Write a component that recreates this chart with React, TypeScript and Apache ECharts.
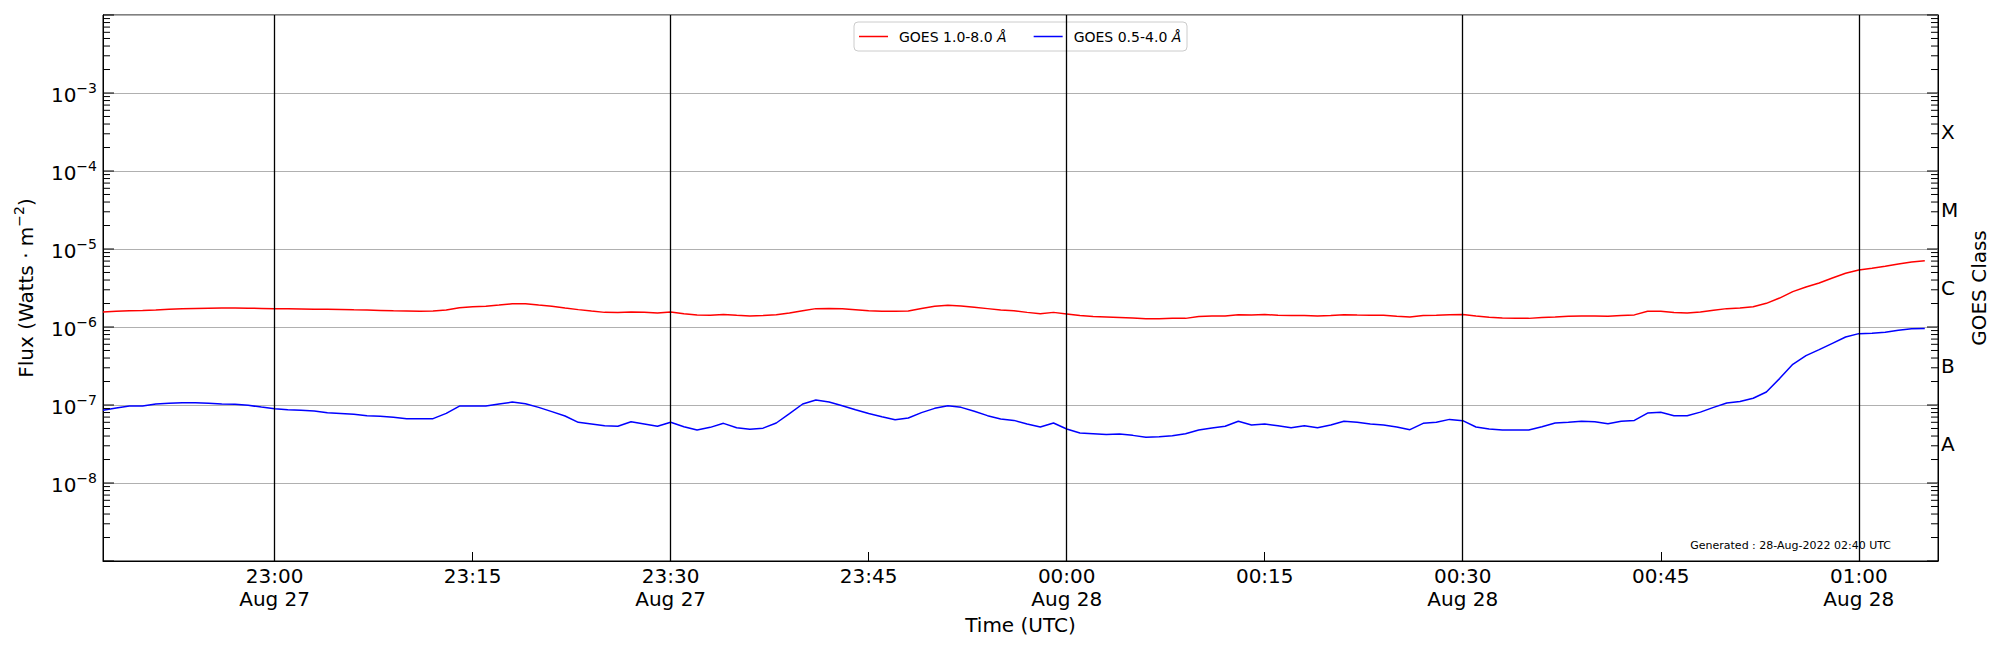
import React, { useEffect, useRef } from "react";
import * as echarts from "echarts";

const FONT = '"DejaVu Sans", "Liberation Sans", sans-serif';

// 1-minute cadence starting 2022-08-27 22:47 UTC
const START_UTC = Date.UTC(2022, 7, 27, 22, 47);
const MINUTE_MS = 60000;
const X_MIN = Date.UTC(2022, 7, 27, 22, 47);
const X_MAX = Date.UTC(2022, 7, 28, 1, 6);

// GOES 1.0-8.0 Å flux (W/m^2)
const LONG_FLUX = [
  1.56e-6, 1.59e-6, 1.62e-6, 1.63e-6, 1.65e-6, 1.69e-6, 1.71e-6, 1.73e-6, 1.74e-6, 1.75e-6,
  1.75e-6, 1.74e-6, 1.73e-6, 1.72e-6, 1.71e-6, 1.70e-6, 1.69e-6, 1.69e-6, 1.68e-6, 1.66e-6,
  1.65e-6, 1.63e-6, 1.61e-6, 1.60e-6, 1.59e-6, 1.60e-6, 1.65e-6, 1.77e-6, 1.82e-6, 1.84e-6,
  1.91e-6, 1.99e-6, 1.99e-6, 1.91e-6, 1.84e-6, 1.75e-6, 1.67e-6, 1.60e-6, 1.54e-6, 1.53e-6,
  1.56e-6, 1.54e-6, 1.51e-6, 1.56e-6, 1.48e-6, 1.43e-6, 1.41e-6, 1.45e-6, 1.41e-6, 1.38e-6,
  1.40e-6, 1.44e-6, 1.51e-6, 1.62e-6, 1.72e-6, 1.73e-6, 1.72e-6, 1.67e-6, 1.62e-6, 1.59e-6,
  1.59e-6, 1.60e-6, 1.73e-6, 1.84e-6, 1.90e-6, 1.86e-6, 1.79e-6, 1.72e-6, 1.65e-6, 1.62e-6,
  1.54e-6, 1.48e-6, 1.54e-6, 1.47e-6, 1.40e-6, 1.36e-6, 1.34e-6, 1.32e-6, 1.30e-6, 1.28e-6,
  1.28e-6, 1.29e-6, 1.29e-6, 1.36e-6, 1.38e-6, 1.38e-6, 1.44e-6, 1.42e-6, 1.45e-6, 1.41e-6,
  1.40e-6, 1.40e-6, 1.38e-6, 1.40e-6, 1.44e-6, 1.42e-6, 1.41e-6, 1.41e-6, 1.37e-6, 1.34e-6,
  1.40e-6, 1.41e-6, 1.44e-6, 1.45e-6, 1.38e-6, 1.33e-6, 1.30e-6, 1.29e-6, 1.29e-6, 1.32e-6,
  1.34e-6, 1.37e-6, 1.38e-6, 1.38e-6, 1.37e-6, 1.40e-6, 1.43e-6, 1.59e-6, 1.59e-6, 1.53e-6,
  1.51e-6, 1.56e-6, 1.64e-6, 1.72e-6, 1.75e-6, 1.82e-6, 2.01e-6, 2.35e-6, 2.84e-6, 3.26e-6,
  3.67e-6, 4.25e-6, 4.88e-6, 5.38e-6, 5.65e-6, 6.00e-6, 6.42e-6, 6.81e-6, 7.08e-6,
];

// GOES 0.5-4.0 Å flux (W/m^2)
const SHORT_FLUX = [
  8.55e-8, 9.16e-8, 9.7e-8, 9.7e-8, 10.3e-8, 10.5e-8, 10.7e-8, 10.7e-8, 10.5e-8, 10.3e-8,
  10.2e-8, 9.9e-8, 9.4e-8, 8.97e-8, 8.7e-8, 8.55e-8, 8.4e-8, 7.97e-8, 7.8e-8, 7.6e-8,
  7.3e-8, 7.16e-8, 6.95e-8, 6.68e-8, 6.68e-8, 6.68e-8, 7.8e-8, 9.7e-8, 9.7e-8, 9.7e-8,
  10.3e-8, 10.9e-8, 10.4e-8, 9.33e-8, 8.22e-8, 7.23e-8, 6.0e-8, 5.71e-8, 5.43e-8, 5.33e-8,
  6.1e-8, 5.71e-8, 5.33e-8, 6.0e-8, 5.27e-8, 4.78e-8, 5.17e-8, 5.82e-8, 5.1e-8, 4.88e-8,
  5.05e-8, 5.88e-8, 7.76e-8, 10.3e-8, 11.6e-8, 10.9e-8, 9.8e-8, 8.7e-8, 7.76e-8, 7.08e-8,
  6.48e-8, 6.8e-8, 7.98e-8, 9.06e-8, 9.8e-8, 9.33e-8, 8.3e-8, 7.3e-8, 6.6e-8, 6.35e-8,
  5.7e-8, 5.22e-8, 5.88e-8, 4.92e-8, 4.37e-8, 4.29e-8, 4.2e-8, 4.25e-8, 4.08e-8, 3.85e-8,
  3.93e-8, 4.04e-8, 4.29e-8, 4.77e-8, 5.07e-8, 5.33e-8, 6.18e-8, 5.54e-8, 5.7e-8, 5.43e-8,
  5.1e-8, 5.43e-8, 5.1e-8, 5.54e-8, 6.18e-8, 6.0e-8, 5.7e-8, 5.54e-8, 5.22e-8, 4.83e-8,
  5.82e-8, 6.0e-8, 6.54e-8, 6.3e-8, 5.22e-8, 4.92e-8, 4.77e-8, 4.77e-8, 4.77e-8, 5.27e-8,
  5.88e-8, 6.0e-8, 6.18e-8, 6.1e-8, 5.76e-8, 6.18e-8, 6.35e-8, 7.88e-8, 8.06e-8, 7.3e-8,
  7.3e-8, 8.1e-8, 9.33e-8, 10.6e-8, 11.1e-8, 12.2e-8, 14.7e-8, 21.8e-8, 33.2e-8, 42.9e-8,
  51.2e-8, 61.8e-8, 74.4e-8, 82.2e-8, 83.0e-8, 85.5e-8, 90.6e-8, 95.2e-8, 96.0e-8,
];

const TICK_TIMES = [
  Date.UTC(2022, 7, 27, 23, 0),
  Date.UTC(2022, 7, 27, 23, 15),
  Date.UTC(2022, 7, 27, 23, 30),
  Date.UTC(2022, 7, 27, 23, 45),
  Date.UTC(2022, 7, 28, 0, 0),
  Date.UTC(2022, 7, 28, 0, 15),
  Date.UTC(2022, 7, 28, 0, 30),
  Date.UTC(2022, 7, 28, 0, 45),
  Date.UTC(2022, 7, 28, 1, 0),
];
const TICK_LABELS = [
  "23:00\nAug 27", "23:15", "23:30\nAug 27", "23:45", "00:00\nAug 28",
  "00:15", "00:30\nAug 28", "00:45", "01:00\nAug 28",
];
const MAJOR_LINE_TIMES = [
  Date.UTC(2022, 7, 27, 23, 0),
  Date.UTC(2022, 7, 27, 23, 30),
  Date.UTC(2022, 7, 28, 0, 0),
  Date.UTC(2022, 7, 28, 0, 30),
  Date.UTC(2022, 7, 28, 1, 0),
];

const Y_LABEL_EXPONENTS = [-8, -7, -6, -5, -4, -3];
const DECADE_EXPONENTS = [-9, -8, -7, -6, -5, -4, -3, -2];
const MINOR_MULTIPLES = [2, 3, 4, 5, 6, 7, 8, 9];
const CLASS_LEVELS = [-7.5, -6.5, -5.5, -4.5, -3.5];
const CLASS_LABELS = ["A", "B", "C", "M", "X"];

const LONG_NAME = "GOES 1.0-8.0 Å";
const SHORT_NAME = "GOES 0.5-4.0 Å";

export default function App() {
  const ref = useRef<HTMLDivElement>(null);

  useEffect(() => {
    document.body.style.margin = "0";
    if (!ref.current) return;
    const chart = echarts.init(ref.current, undefined, { renderer: "svg" });

    const longData = LONG_FLUX.map((v, i) => [START_UTC + i * MINUTE_MS, v]);
    const shortData = SHORT_FLUX.map((v, i) => [START_UTC + i * MINUTE_MS, v]);

    const tickData: number[][] = [];
    DECADE_EXPONENTS.forEach((e) => {
      tickData.push([X_MIN, Math.pow(10, e), 1]);
      if (e < -2) MINOR_MULTIPLES.forEach((k) => tickData.push([X_MIN, k * Math.pow(10, e), 0]));
    });

    const option: any = {
      animation: false,
      textStyle: { fontFamily: FONT },
      grid: {
        left: 103, right: 62, top: 15, bottom: 89,
        show: true, borderColor: "#000", borderWidth: 1, backgroundColor: "transparent",
      },
      legend: {
        data: [LONG_NAME, SHORT_NAME],
        left: 854, top: 22, z: 6,
        icon: "rect",
        itemWidth: 29, itemHeight: 1.5, itemGap: 27,
        padding: [6, 6, 6, 5],
        selectedMode: false,
        textStyle: {
          fontSize: 14, fontFamily: FONT, color: "#000", lineHeight: 17,
          rich: {
            sp: { width: 6, fontSize: 14, lineHeight: 17 },
            it: { fontStyle: "italic", fontSize: 14, fontFamily: FONT, color: "#000", lineHeight: 17 },
          },
        },
        formatter: (name: string) => "{sp|}" + name.replace("Å", "{it|Å}"),
      },
      xAxis: {
        type: "value",
        min: X_MIN, max: X_MAX,
        axisLine: { show: true, lineStyle: { color: "#000", width: 1 } },
        axisTick: { show: true, inside: true, length: 9, customValues: TICK_TIMES, lineStyle: { color: "#000", width: 1 } },
        axisLabel: {
          customValues: TICK_TIMES,
          formatter: (v: number) => {
            const i = TICK_TIMES.findIndex((t) => Math.abs(t - v) < 1000);
            return i >= 0 ? TICK_LABELS[i] : "";
          },
          fontSize: 20, lineHeight: 23, color: "#000", fontFamily: FONT, margin: 3,
        },
        splitLine: { show: false },
        name: "Time (UTC)", nameLocation: "middle", nameGap: 52,
        nameTextStyle: { fontSize: 20, color: "#000", fontFamily: FONT },
      },
      yAxis: [
        {
          type: "log", logBase: 10, min: 1e-9, max: 1e-2, splitNumber: 7,
          axisLine: { show: true, lineStyle: { color: "#000", width: 1 } },
          axisTick: { show: false },
          minorTick: { show: false },
          axisLabel: {
            margin: 6,
            formatter: (v: number) => {
              const e = Math.round(Math.log10(v));
              return Y_LABEL_EXPONENTS.includes(e) ? `{b|10}{s|−${Math.abs(e)}}` : "";
            },
            rich: {
              b: { fontSize: 20, fontFamily: FONT, color: "#000", lineHeight: 24, verticalAlign: "bottom" },
              s: { fontSize: 14, fontFamily: FONT, color: "#000", lineHeight: 24, verticalAlign: "top" },
            },
          },
          splitLine: { show: true, lineStyle: { color: "#b0b0b0", width: 1 } },
          name: "{n|Flux (Watts · m}{s|−2}{n|)}",
          nameLocation: "middle", nameGap: 67, nameRotate: 90,
          nameTextStyle: {
            rich: {
              n: { fontSize: 20, fontFamily: FONT, color: "#000", lineHeight: 24, verticalAlign: "bottom" },
              s: { fontSize: 14, fontFamily: FONT, color: "#000", lineHeight: 24, verticalAlign: "top" },
            },
          },
        },
        {
          type: "value", position: "right", min: -9, max: -2, interval: 0.5,
          axisLine: { show: true, lineStyle: { color: "#000", width: 1 } },
          axisTick: { show: false },
          splitLine: { show: false },
          axisLabel: {
            margin: 3, fontSize: 20, color: "#000", fontFamily: FONT,
            formatter: (v: number) => {
              const i = CLASS_LEVELS.findIndex((c) => Math.abs(c - v) < 1e-6);
              return i >= 0 ? CLASS_LABELS[i] : "";
            },
          },
          name: "GOES Class", nameLocation: "middle", nameGap: 11, nameRotate: 90,
          nameTextStyle: { fontSize: 20, color: "#000", fontFamily: FONT },
        },
      ],
      series: [
        {
          name: LONG_NAME, type: "line", data: longData, yAxisIndex: 0,
          symbol: "none", showSymbol: false,
          lineStyle: { color: "#ff0000", width: 1.5 }, itemStyle: { color: "#ff0000" },
          emphasis: { disabled: true }, z: 3,
          markLine: {
            silent: true, symbol: ["none", "none"], label: { show: false },
            lineStyle: { color: "#000", width: 1.3, type: "solid" },
            emphasis: { disabled: true },
            data: MAJOR_LINE_TIMES.map((t) => ({ xAxis: t })),
          },
        },
        {
          name: SHORT_NAME, type: "line", data: shortData, yAxisIndex: 0,
          symbol: "none", showSymbol: false,
          lineStyle: { color: "#0000ff", width: 1.5 }, itemStyle: { color: "#0000ff" },
          emphasis: { disabled: true }, z: 3,
        },
        {
          type: "custom", name: "ticks", yAxisIndex: 0, silent: true, z: 5,
          data: tickData,
          renderItem: (_p: any, api: any) => {
            const v = api.value(1);
            const major = api.value(2) === 1;
            const pl = api.coord([X_MIN, v]);
            const pr = api.coord([X_MAX, v]);
            const len = major ? 11 : 7;
            return {
              type: "group",
              children: [
                { type: "line", shape: { x1: pl[0], y1: pl[1], x2: pl[0] + len, y2: pl[1] }, style: { stroke: "#000", lineWidth: 1 } },
                { type: "line", shape: { x1: pr[0] - len, y1: pr[1], x2: pr[0], y2: pr[1] }, style: { stroke: "#000", lineWidth: 1 } },
              ],
            };
          },
        },
      ],
      graphic: [
        {
          type: "rect", z: 5, silent: true,
          shape: { x: 854, y: 22, width: 333, height: 29, r: 4 },
          style: { fill: "rgba(255,255,255,0.8)", stroke: "#cccccc", lineWidth: 1 },
        },
        {
          type: "text", x: 1891, y: 545,
          style: {
            text: "Generated : 28-Aug-2022 02:40 UTC",
            font: `11px ${FONT}`, fill: "#000", align: "right", verticalAlign: "middle",
          },
        },
      ],
    };

    chart.setOption(option);
    return () => chart.dispose();
  }, []);

  return <div ref={ref} style={{ width: 2000, height: 650 }} />;
}
